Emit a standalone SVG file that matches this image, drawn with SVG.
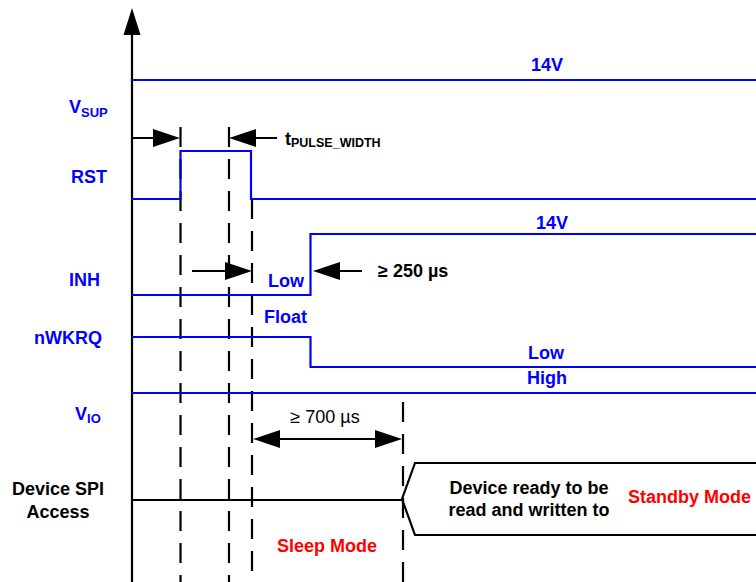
<svg xmlns="http://www.w3.org/2000/svg" width="756" height="582" viewBox="0 0 756 582">
<style>
.sig{fill:none;stroke:#0000FF;stroke-width:2.2}
.blk{fill:none;stroke:#000;stroke-width:2.2}
.dash{fill:none;stroke:#000;stroke-width:2.2;stroke-dasharray:20,12}
.arr{fill:none;stroke:#000;stroke-width:2.2}
text{font-family:"Liberation Sans",Arial,sans-serif;font-size:18px;font-weight:bold}
text.n{font-weight:normal}
.bl{fill:#0000FF}
.k{fill:#000}
.r{fill:#FF0000}
.m{text-anchor:middle}
</style>
<defs>
<marker id="ah" markerUnits="userSpaceOnUse" markerWidth="27" markerHeight="18" refX="24" refY="9" orient="auto-start-reverse" viewBox="0 0 27 18">
<path d="M0,0 L27,9 L0,18 Z" fill="#000"/>
</marker>
</defs>
<g id="axis">
<line class="blk" x1="132" y1="32" x2="132" y2="582"/>
<polygon points="132,8 123.5,35 140.5,35" fill="#000"/>
</g>
<g id="guides">
<line class="dash" x1="180.5" y1="127" x2="180.5" y2="582"/>
<line class="dash" x1="229" y1="127" x2="229" y2="582"/>
<line class="dash" x1="252" y1="199" x2="252" y2="582"/>
<line class="dash" x1="403" y1="402" x2="403" y2="582"/>
</g>
<g id="vsup">
<line class="sig" x1="132" y1="80" x2="756" y2="80"/>
<text class="bl m" x="547" y="71">14V</text>
<text class="bl" x="69" y="113">V<tspan font-size="13" dy="4">SUP</tspan></text>
</g>
<g id="rst">
<polyline class="sig" points="132,199 180.5,199 180.5,151 251,151 251,199 756,199"/>
<text class="bl" x="71" y="183">RST</text>
</g>
<g id="inh">
<polyline class="sig" points="132,295 310.5,295 310.5,234 756,234"/>
<text class="bl" x="69" y="286">INH</text>
<text class="bl m" x="552" y="229">14V</text>
<text class="bl" x="268" y="287">Low</text>
</g>
<g id="nwkrq">
<polyline class="sig" points="132,337 310.5,337 310.5,367 756,367"/>
<text class="bl" x="34" y="344">nWKRQ</text>
<text class="bl" x="264" y="323">Float</text>
<text class="bl m" x="546" y="359">Low</text>
</g>
<g id="vio">
<line class="sig" x1="132" y1="393" x2="756" y2="393"/>
<text class="bl m" x="547" y="384">High</text>
<text class="bl" x="75" y="420">V<tspan font-size="13" dy="3">IO</tspan></text>
</g>
<g id="spi">
<line class="blk" x1="132" y1="500" x2="402" y2="500"/>
<polyline class="blk" points="756,463 415,463 402,499 415,535 756,535"/>
<text class="k m" x="58" y="495">Device SPI</text>
<text class="k m" x="58" y="518">Access</text>
<text class="k m" x="529" y="494">Device ready to be</text>
<text class="k m" x="529" y="516">read and written to</text>
<text class="r" x="628" y="503">Standby Mode</text>
<text class="r" x="277" y="552">Sleep Mode</text>
</g>
<g id="connectors">
<line class="arr" x1="132" y1="138" x2="177" y2="138" marker-end="url(#ah)"/>
<line class="arr" x1="277" y1="138" x2="232" y2="138" marker-end="url(#ah)"/>
<line class="arr" x1="192" y1="271" x2="249" y2="271" marker-end="url(#ah)"/>
<line class="arr" x1="362" y1="271" x2="316" y2="271" marker-end="url(#ah)"/>
<line class="arr" x1="256" y1="439" x2="399" y2="439" marker-start="url(#ah)" marker-end="url(#ah)"/>
<text class="k" x="285" y="145">t<tspan font-size="12.5" dy="2">PULSE_WIDTH</tspan></text>
<text class="k" x="378" y="277">≥ 250 µs</text>
<text class="k m n" x="325" y="423">≥ 700 µs</text>
</g>
</svg>
